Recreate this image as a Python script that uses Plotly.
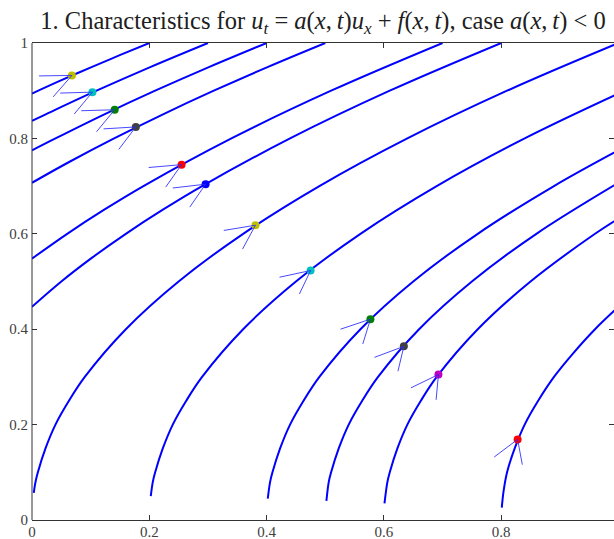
import plotly.graph_objects as go

# ---------------- data ----------------
# characteristics starting on the bottom edge (t = 0)
b00_t = [0.057, 0.08, 0.10, 0.15, 0.20, 0.25, 0.30, 0.40, 0.50, 0.60, 0.70, 0.80, 0.90, 1.00]
b00_x = [0.003, 0.006, 0.010, 0.023, 0.040, 0.063, 0.090, 0.160, 0.250, 0.360, 0.490, 0.640, 0.810, 1.000]
b02_t = [0.050, 0.08, 0.10, 0.15, 0.20, 0.25, 0.30, 0.40, 0.50, 0.60, 0.70, 0.80, 0.894]
b02_x = [0.2025, 0.206, 0.210, 0.223, 0.240, 0.263, 0.290, 0.360, 0.450, 0.560, 0.690, 0.840, 1.000]
b04_t = [0.045, 0.08, 0.10, 0.15, 0.20, 0.25, 0.30, 0.40, 0.50, 0.60, 0.70, 0.775]
b04_x = [0.402, 0.406, 0.410, 0.423, 0.440, 0.463, 0.490, 0.560, 0.650, 0.760, 0.890, 1.000]
b05_t = [0.040, 0.08, 0.10, 0.15, 0.20, 0.25, 0.30, 0.40, 0.50, 0.60, 0.707]
b05_x = [0.502, 0.506, 0.510, 0.523, 0.540, 0.563, 0.590, 0.660, 0.750, 0.860, 1.000]
b06_t = [0.035, 0.08, 0.10, 0.15, 0.20, 0.25, 0.30, 0.40, 0.50, 0.60, 0.632]
b06_x = [0.601, 0.606, 0.610, 0.623, 0.640, 0.663, 0.690, 0.760, 0.850, 0.960, 1.000]
b08_t = [0.026, 0.06, 0.10, 0.15, 0.20, 0.25, 0.30, 0.35, 0.40, 0.447]
b08_x = [0.801, 0.804, 0.810, 0.823, 0.840, 0.863, 0.890, 0.923, 0.960, 1.000]

# characteristics entering through the left edge (x = 0)
l1_t = [0.447, 0.50, 0.55, 0.60, 0.65, 0.70, 0.80, 0.90, 1.00]
l1_x = [0.000, 0.050, 0.1025, 0.160, 0.2225, 0.290, 0.440, 0.610, 0.800]
l2_t = [0.548, 0.60, 0.65, 0.70, 0.80, 0.90, 1.00]
l2_x = [0.000, 0.060, 0.1225, 0.190, 0.340, 0.510, 0.700]
l3_t = [0.707, 0.75, 0.80, 0.85, 0.90, 0.95, 1.00]
l3_x = [0.000, 0.0625, 0.140, 0.2225, 0.310, 0.4025, 0.500]
l4_t = [0.775, 0.80, 0.85, 0.90, 0.95, 1.00]
l4_x = [0.000, 0.040, 0.1225, 0.210, 0.3025, 0.400]
l5_t = [0.837, 0.85, 0.90, 0.95, 1.00]
l5_x = [0.000, 0.0225, 0.110, 0.2025, 0.300]
l6_t = [0.894, 0.92, 0.95, 0.975, 1.00]
l6_x = [0.000, 0.0464, 0.1025, 0.1506, 0.200]

# marked points on the characteristics and the two short segments at each
dot_x = [0.068, 0.103, 0.141, 0.177, 0.255, 0.296, 0.381, 0.475, 0.577, 0.634, 0.693, 0.828]
dot_y = [0.932, 0.897, 0.860, 0.824, 0.745, 0.704, 0.618, 0.523, 0.421, 0.364, 0.305, 0.169]
dot_color = ["#bfbf00", "#00bfbf", "#008000", "#404040", "#ff0000", "#0000ff",
             "#bfbf00", "#00bfbf", "#008000", "#404040", "#bf00bf", "#ff0000"]
seg1_x = [0.012, 0.048, 0.084, 0.122, 0.199, 0.240, 0.327, 0.422, 0.526, 0.584, 0.646, 0.788]
seg1_y = [0.931, 0.895, 0.858, 0.820, 0.739, 0.696, 0.607, 0.509, 0.400, 0.341, 0.277, 0.132]
seg2_x = [0.036, 0.072, 0.110, 0.148, 0.228, 0.269, 0.359, 0.456, 0.564, 0.624, 0.689, 0.836]
seg2_y = [0.887, 0.851, 0.814, 0.777, 0.698, 0.656, 0.568, 0.474, 0.369, 0.312, 0.252, 0.116]

x_ticks = [0, 0.2, 0.4, 0.6, 0.8]
x_tick_text = ["0", "0.2", "0.4", "0.6", "0.8"]
y_ticks = [0, 0.2, 0.4, 0.6, 0.8, 1]
y_tick_text = ["0", "0.2", "0.4", "0.6", "0.8", "1"]

title_text = ("1. Characteristics for <i>u</i><sub><i>t</i></sub> = <i>a</i>(<i>x</i>,\u2009<i>t</i>)"
              "<i>u</i><sub><i>x</i></sub> + <i>f</i>(<i>x</i>,\u2009<i>t</i>), case "
              "<i>a</i>(<i>x</i>,\u2009<i>t</i>) &lt; 0")

# ---------------- figure ----------------
curves = [(b00_x, b00_t), (b02_x, b02_t), (b04_x, b04_t), (b05_x, b05_t),
          (b06_x, b06_t), (b08_x, b08_t), (l1_x, l1_t), (l2_x, l2_t),
          (l3_x, l3_t), (l4_x, l4_t), (l5_x, l5_t), (l6_x, l6_t)]

fig = go.Figure()
for cx, ct in curves:
    fig.add_trace(go.Scatter(x=cx, y=ct, mode="lines",
                             line=dict(color="#0000ff", width=2, shape="spline"),
                             hoverinfo="skip", showlegend=False))

fig.add_trace(go.Scatter(x=dot_x, y=dot_y, mode="markers",
                         marker=dict(color=dot_color, size=8, line=dict(width=0)),
                         hoverinfo="skip", showlegend=False))

seg_x, seg_y = [], []
for i in range(len(dot_x)):
    seg_x += [seg1_x[i], dot_x[i], None, seg2_x[i], dot_x[i], None]
    seg_y += [seg1_y[i], dot_y[i], None, seg2_y[i], dot_y[i], None]
fig.add_trace(go.Scatter(x=seg_x, y=seg_y, mode="lines",
                         line=dict(color="rgba(40,40,255,0.85)", width=1),
                         hoverinfo="skip", showlegend=False))

W, H = 614, 539
L, R, T, B = 32, 0, 43, 19
x_max = (W - L - R) / 586.5

axis_font = dict(family="Liberation Serif, DejaVu Serif, serif", size=15, color="#404040")
fig.update_layout(
    width=W, height=H,
    margin=dict(l=L, r=R, t=T, b=B, pad=0, autoexpand=False),
    paper_bgcolor="white", plot_bgcolor="white",
    showlegend=False,
    title=dict(text=title_text, x=0.5, xref="paper", xanchor="center",
               y=1 - 20 / H, yref="container", yanchor="middle", automargin=False,
               font=dict(family="Liberation Serif, DejaVu Serif, serif", size=24.5, color="#202020")),
    xaxis=dict(range=[0, x_max], tickvals=x_ticks, ticktext=x_tick_text, automargin=False,
               ticks="inside", ticklen=5, tickwidth=1, tickcolor="#333333",
               ticklabelstandoff=-2,
               showline=True, linecolor="#333333", linewidth=1, mirror="ticks",
               showgrid=False, zeroline=False, tickfont=axis_font),
    yaxis=dict(range=[0, 1], tickvals=y_ticks, ticktext=y_tick_text, automargin=False,
               ticks="inside", ticklen=5, tickwidth=1, tickcolor="#333333",
               ticklabelstandoff=3,
               showline=False, mirror="ticks",
               showgrid=False, zeroline=False, tickfont=axis_font),
    shapes=[dict(type="line", xref="paper", yref="paper", x0=0, x1=0, y0=0, y1=1,
                 line=dict(color="#333333", width=1))],
)

fig.write_html("out.html",
               config={"displayModeBar": False},
               post_script="document.documentElement.style.margin='0';"
                           "document.body.style.margin='0';"
                           "document.body.style.overflow='hidden';")
